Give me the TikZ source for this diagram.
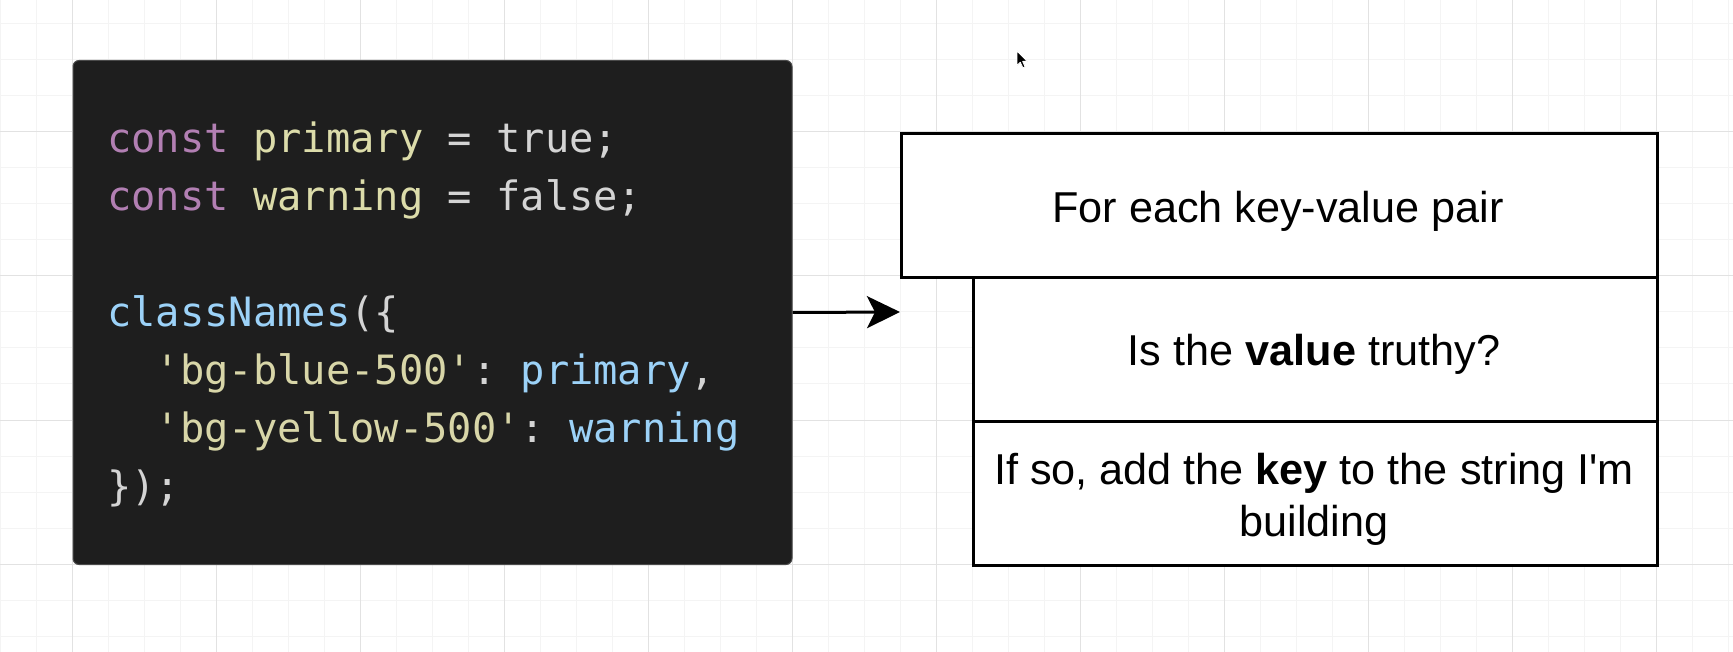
\documentclass[tikz,border=0pt]{standalone}
\usepackage{fontspec}
\setmainfont{Liberation Sans}
\newfontfamily\codefont{DejaVu Sans Mono}[Ligatures=TeXOff]
\usetikzlibrary{arrows.meta}
\definecolor{gridminor}{HTML}{F4F4F4}
\definecolor{gridmajor}{HTML}{E2E2E2}
\definecolor{codebg}{HTML}{1E1E1E}
\definecolor{codeborder}{HTML}{4A4A4A}
\definecolor{kw}{HTML}{B27FB3}
\definecolor{var}{HTML}{DCDCAA}
\definecolor{str}{HTML}{D8D6A8}
\definecolor{plain}{HTML}{D4D4D4}
\definecolor{ident}{HTML}{9CD2F8}
\newcommand\csp{\phantom{x}}
\begin{document}
\begin{tikzpicture}[x=1pt,y=-1pt,
  minorline/.style={draw=gridminor,line width=1pt},
  majorline/.style={draw=gridmajor,line width=1pt},
  codebox/.style={draw=codeborder,line width=1pt,fill=codebg,rounded corners=6pt,inner sep=0pt},
  codeline/.style={anchor=base west,inner sep=0pt,text=plain,font=\codefont\fontsize{40.4}{48}\selectfont},
  stepbox/.style={draw=black,line width=3pt,fill=white,inner sep=0pt,anchor=north west},
  boxtext/.style={anchor=base,inner sep=0pt,text=black,font=\fontsize{43.2}{52}\selectfont},
  flow/.style={draw=black,line width=3pt,-{Stealth[length=33pt,width=32pt,inset=8pt]}}]
\useasboundingbox (0,0) rectangle (1733,652);
\fill[white] (0,0) rectangle (1733,652);
% grid
\foreach \x in {0,36,...,1730} \draw[minorline] (\x,0) -- (\x,652);
\foreach \y in {24,60,...,650} \draw[minorline] (0,\y) -- (1733,\y);
\foreach \x in {72,216,...,1730} \draw[majorline] (\x,0) -- (\x,652);
\foreach \y in {132,276,420,564} \draw[majorline] (0,\y) -- (1733,\y);
% code panel
\node[codebox,anchor=north west,minimum width=719pt,minimum height=504pt] (code) at (72.5,60) {};
\node[codeline] (c1) at (107,152.5) {\textcolor{kw}{const}\csp\textcolor{var}{primary}\csp=\csp true;};
\node[codeline] (c2) at (107,210.5) {\textcolor{kw}{const}\csp\textcolor{var}{warning}\csp=\csp false;};
\node[codeline] (c4) at (107,326.5) {\textcolor{ident}{classNames}(\{};
\node[codeline] (c5) at (107,384.5) {\csp\csp\textcolor{str}{'bg-blue-500'}:\csp\textcolor{ident}{primary},};
\node[codeline] (c6) at (107,442.5) {\csp\csp\textcolor{str}{'bg-yellow-500'}:\csp\textcolor{ident}{warning}};
\node[codeline] (c7) at (107,500.5) {\});};
% boxes
\node[stepbox,minimum width=756pt,minimum height=144pt] (b1) at (900,132) {};
\node[stepbox,minimum width=684pt,minimum height=144pt] (b2) at (972,276) {};
\node[stepbox,minimum width=684pt,minimum height=144pt] (b3) at (972,420) {};
\node[boxtext] (t1) at (1278,222.5) {For each key-value pair};
\node[boxtext] (t2) at (1314,366) {Is the \textbf{value} truthy?};
\node[boxtext] (t3a) at (1314,484.5) {If so, add the \textbf{key} to the string I\textquotesingle m};
\node[boxtext] (t3b) at (1314,536.5) {building};
% arrow
\coordinate (tip) at (900,312);
\draw[flow] (code.east) -- (tip);
% mouse cursor
\fill[black,draw=white,line width=0.8pt,line join=round] (1017,51) -- ++(0,14.5) -- ++(3.3,-3.3) -- ++(2.6,5.6) -- ++(2.2,-1) -- ++(-2.5,-5.4) -- ++(4.7,0) -- cycle;
\end{tikzpicture}
\end{document}
